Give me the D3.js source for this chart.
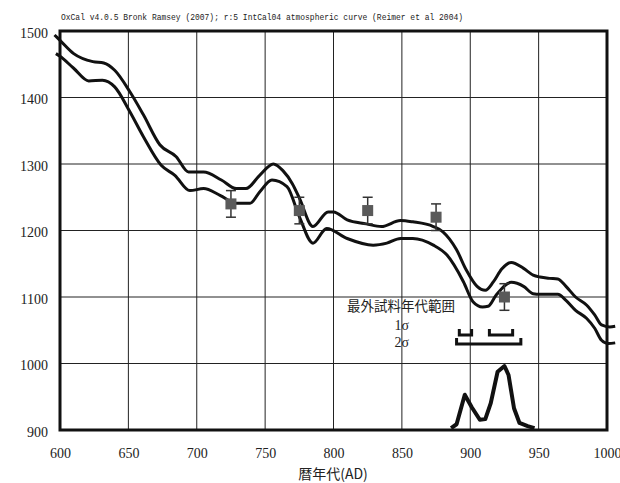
<!DOCTYPE html>
<html><head><meta charset="utf-8">
<script src="https://cdn.jsdelivr.net/npm/d3@7"></script>
<style>body{margin:0;background:#fff}svg{display:block}</style>
</head><body>
<svg id="c" width="620" height="483"></svg>
<script>
const titleText = "OxCal v4.0.5 Bronk Ramsey (2007); r:5 IntCal04 atmospheric curve (Reimer et al 2004)";
const xTicks = [600,650,700,750,800,850,900,950,1000];
const yTicks = [900,1000,1100,1200,1300,1400,1500];
const xTitle = "暦年代(AD)";
const legendTitle = "最外試料年代範囲";
const upperCurve = [[596,1494],[600,1486],[610,1466],[624,1454],[632,1452],[640,1441],[651,1409],[661,1374],[673,1329],[685,1311],[694,1288],[705,1288],[718,1276],[729,1263],[736,1263],[746,1283],[756,1300],[763,1290],[770,1270],[775,1249],[785,1206],[796,1228],[800,1228],[810,1216],[824,1210],[835,1206],[849,1215],[858,1213],[873,1206],[880,1198],[890,1171],[897,1141],[905,1116],[911,1110],[917,1123],[923,1142],[930,1152],[939,1143],[946,1133],[951,1130],[958,1128],[964,1127],[970,1116],[977,1100],[985,1088],[991,1073],[996,1058],[1002,1055],[1006,1056]];
const lowerCurve = [[597,1466],[600,1462],[610,1444],[621,1425],[631,1426],[640,1416],[651,1379],[661,1341],[674,1298],[684,1283],[695,1260],[705,1263],[717,1253],[729,1241],[739,1241],[746,1258],[755,1276],[766,1266],[775,1221],[785,1181],[795,1203],[810,1188],[829,1178],[839,1181],[849,1188],[858,1188],[873,1178],[883,1163],[895,1123],[902,1093],[909,1085],[913,1086],[919,1103],[930,1122],[939,1116],[946,1105],[951,1104],[964,1104],[970,1095],[977,1080],[985,1068],[991,1053],[996,1035],[1001,1030],[1006,1031]];
const sampleYears = [725,775,825,875,925];
const sampleBP = [1240,1230,1230,1220,1100];
const sampleErr = [20,20,20,20,20];
const distYears = [886,890,896,901,907,911,915,920,925,928,932,936,942,947];
const distProb = [0.03,0.09,0.55,0.36,0.16,0.17,0.42,0.91,1.0,0.86,0.34,0.11,0.06,0.03];
const sigma1 = [[892,901],[914,931]];
const sigma2 = [[890,937]];

const svg = d3.select("#c");
const L=60,R=607,T=31,B=430;
const x = d3.scaleLinear().domain([600,1000]).range([L,R]);
const y = d3.scaleLinear().domain([900,1500]).range([B,T]);
const p = d3.scaleLinear().domain([0,1]).range([B,B-64]);
const serif = "'Liberation Serif','DejaVu Serif',serif";
const mono = "'Liberation Mono','DejaVu Sans Mono',monospace";
const cjk = "'Noto Sans CJK JP','Noto Sans CJK SC',sans-serif";

svg.append("text").attr("x",61).attr("y",20).attr("font-family",mono).attr("font-size",9)
  .attr("textLength",402).attr("lengthAdjust","spacingAndGlyphs").attr("fill","#222").text(titleText);

// grid
svg.append("g").selectAll("line").data(xTicks.slice(1,-1)).join("line")
  .attr("x1",d=>x(d)).attr("x2",d=>x(d)).attr("y1",T).attr("y2",B).attr("stroke","#222").attr("stroke-width",1);
svg.append("g").selectAll("line").data(yTicks.slice(1,-1)).join("line")
  .attr("y1",d=>y(d)).attr("y2",d=>y(d)).attr("x1",L).attr("x2",R).attr("stroke","#222").attr("stroke-width",1);

// axes labels via d3 axes
const xa = svg.append("g").attr("transform",`translate(0,${B})`)
  .call(d3.axisBottom(x).tickValues(xTicks).tickSize(0).tickPadding(18).tickFormat(d3.format("d")));
xa.select(".domain").remove();
xa.selectAll("text").attr("font-family",serif).attr("font-size",14).attr("fill","#222");
const ya = svg.append("g").attr("transform",`translate(${L},0)`)
  .call(d3.axisLeft(y).tickValues(yTicks).tickSize(0).tickPadding(12).tickFormat(d3.format("d")));
ya.select(".domain").remove();
ya.selectAll("text").attr("font-family",serif).attr("font-size",14).attr("fill","#222").attr("dy","0.45em");

svg.append("text").attr("x",333).attr("y",479).attr("text-anchor","middle")
  .attr("font-family",cjk).attr("font-size",14).attr("fill","#222").text(xTitle);

// curves
const line = d3.line().x(d=>x(d[0])).y(d=>y(d[1])).curve(d3.curveMonotoneX);
[upperCurve,lowerCurve].forEach(c=>svg.append("path").attr("d",line(c)).attr("fill","none")
  .attr("stroke","#111").attr("stroke-width",3).attr("stroke-linejoin","round"));

// distribution
const dline = d3.line().x((d,i)=>x(distYears[i])).y(d=>p(d)).curve(d3.curveLinear);
svg.append("path").attr("d",dline(distProb)).attr("fill","none").attr("stroke","#111")
  .attr("stroke-width",4).attr("stroke-linejoin","round");

// border
svg.append("rect").attr("x",L).attr("y",T).attr("width",R-L).attr("height",B-T)
  .attr("fill","none").attr("stroke","#111").attr("stroke-width",3);

// samples
const g = svg.append("g");
sampleYears.forEach((yr,i)=>{
  const cx=x(yr), v=sampleBP[i], e=sampleErr[i];
  g.append("line").attr("x1",cx).attr("x2",cx).attr("y1",y(v+e)).attr("y2",y(v-e)).attr("stroke","#333").attr("stroke-width",1.5);
  [v+e,v-e].forEach(w=>g.append("line").attr("x1",cx-5).attr("x2",cx+5).attr("y1",y(w)).attr("y2",y(w)).attr("stroke","#333").attr("stroke-width",1.5));
  g.append("rect").attr("x",cx-5.5).attr("y",y(v)-5.5).attr("width",11).attr("height",11).attr("fill","#5a5a5a");
});

// legend
svg.append("text").attr("x",401).attr("y",311).attr("text-anchor","middle").attr("font-family",cjk)
  .attr("font-size",13.5).attr("fill","#222").text(legendTitle);
svg.append("text").attr("x",409).attr("y",330).attr("text-anchor","end").attr("font-family",serif)
  .attr("font-size",14).attr("fill","#222").text("1σ");
svg.append("text").attr("x",409).attr("y",347).attr("text-anchor","end").attr("font-family",serif)
  .attr("font-size",14).attr("fill","#222").text("2σ");
function bracket(r,top,bot){
  svg.append("path").attr("d",`M${x(r[0])},${top}V${bot}H${x(r[1])}V${top}`)
    .attr("fill","none").attr("stroke","#111").attr("stroke-width",3);
}
sigma1.forEach(r=>bracket(r,329,335));
sigma2.forEach(r=>bracket(r,338,344));
</script>
</body></html>
